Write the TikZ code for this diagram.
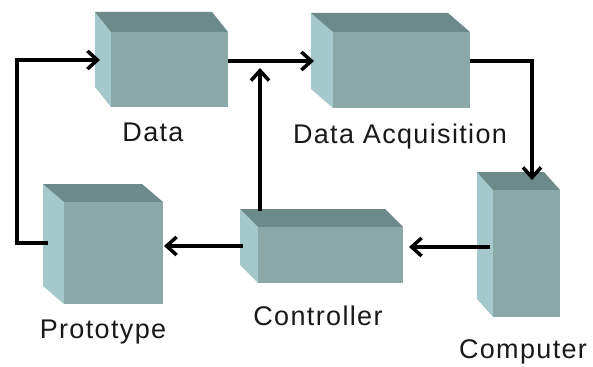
\documentclass[tikz,border=0pt]{standalone}
\usepackage{fontspec}
\setmainfont{Liberation Sans}[LetterSpace=5]
\usetikzlibrary{arrows.meta}
\definecolor{frontc}{RGB}{138,168,168}
\definecolor{topc}{RGB}{108,138,138}
\definecolor{sidec}{RGB}{165,200,204}
\tikzset{
  face/.style={draw=none, inner sep=0pt, outer sep=0pt, fill=frontc},
  lbl/.style={font=\fontsize{27}{30}\selectfont, text=black!90, anchor=base, inner sep=0pt},
  conn/.style={line width=3.5pt, -{Straight Barb[length=10pt,width=18pt]}},
}
% name, x1, y1, width, height, dx, dy
\newcommand\mycube[7]{%
  \fill[sidec] (#2,#3) -- ++(#6,#7) -- ++(0,#5) -- (#2,#3+#5) -- cycle;
  \fill[topc] (#2,#3) -- ++(#6,#7) -- ++(#4,0) -- (#2+#4,#3) -- cycle;
  \node[face, minimum width=#4pt, minimum height=#5pt, anchor=north west] (#1) at (#2,#3) {};
}
\begin{document}
\begin{tikzpicture}[x=1pt,y=-1pt]
\useasboundingbox (0,0) rectangle (593,366);
\fill[white] (0,0) rectangle (593,366);
% cubes
\mycube{data}{111}{32}{117}{75}{-16}{-20}
\mycube{daq}{333}{32}{137}{76}{-22}{-19}
\mycube{comp}{493}{190}{67}{127}{-16}{-18}
\mycube{ctrl}{258}{227}{145}{56}{-18}{-18}
\mycube{proto}{64}{202}{99}{102}{-21}{-18}
% labels
\node[lbl] (ldata) at (153,142) {Data};
\node[lbl] (ldaq) at (400,143) {Data Acquisition};
\node[lbl] (lproto) at (103,338) {Prototype};
\node[lbl] (lctrl) at (318,325) {Controller};
\node[lbl] (lcomp) at (523,358) {Computer};
% connector end points
\coordinate (proto-l) at (48,243);
\coordinate (data-l) at (100,60);
\coordinate (data-r) at (228,61);
\coordinate (daq-l) at (314,61);
\coordinate (ctrl-t) at (260,211);
\coordinate (join) at (260,68);
\coordinate (daq-r) at (470,61);
\coordinate (comp-t) at (532,180);
\coordinate (comp-l) at (490,247);
\coordinate (ctrl-r) at (409,247);
\coordinate (ctrl-l) at (243,246);
\coordinate (proto-r) at (164,246);
% connectors
\draw[conn] (proto-l) -- ++(-31,0) |- (data-l);
\draw[conn] (data-r) -- (daq-l);
\draw[conn] (ctrl-t) -- (join);
\draw[conn] (daq-r) -| (comp-t);
\draw[conn] (comp-l) -- (ctrl-r);
\draw[conn] (ctrl-l) -- (proto-r);
\end{tikzpicture}
\end{document}
